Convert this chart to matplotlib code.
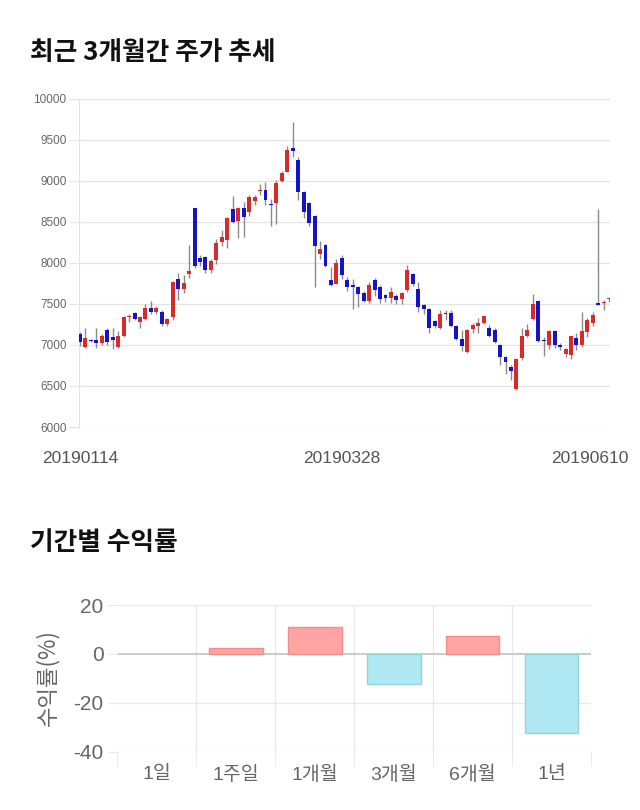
import numpy as np
import matplotlib
matplotlib.use("Agg")
import matplotlib.pyplot as plt
from matplotlib.transforms import ScaledTranslation

plt.rcParams['font.family'] = ['Liberation Sans', 'Noto Sans CJK KR', 'DejaVu Sans']
plt.rcParams['axes.unicode_minus'] = False

# daily candles, 20190114 .. 20190610
opens = [7130, 6980, 7063, 7060, 7018, 7180, 7090, 6975, 7108, 7340,
         7385, 7275, 7310, 7445, 7395, 7405, 7260, 7345, 7806, 7684,
         7860, 8663, 8060, 8065, 7910, 8032, 8256, 8272, 8650, 8508,
         8670, 8614, 8756, 8870, 8886, 8710, 8723, 9000, 9110, 9398,
         9256, 8862, 8728, 8565, 8102, 8211, 7785, 7744, 8057, 7793,
         7732, 7703, 7634, 7533, 7785, 7703, 7610, 7573, 7600, 7561,
         7663, 7866, 7675, 7488, 7439, 7289, 7203, 7390, 7386, 7228,
         7073, 6919, 7195, 7228, 7264, 7207, 7183, 7000, 6858, 6736,
         6463, 6837, 7106, 7317, 7540, 7055, 7000, 7175, 7000, 6890,
         6878, 7081, 7000, 7154, 7264, 7500, 7510, 7555]
highs = [7160, 7210, 7075, 7200, 7130, 7210, 7200, 7170, 7350, 7380,
         7400, 7350, 7500, 7540, 7470, 7420, 7330, 7780, 7870, 7850,
         8220, 8663, 8100, 8080, 8050, 8290, 8400, 8560, 8810, 8680,
         8740, 8820, 8830, 8960, 8980, 8780, 9010, 9120, 9420, 9715,
         9290, 8870, 8740, 8580, 8270, 8230, 7950, 8040, 8100, 7830,
         7800, 7720, 7650, 7770, 7810, 7730, 7620, 7700, 7620, 7640,
         7967, 7880, 7760, 7500, 7450, 7300, 7420, 7420, 7430, 7240,
         7180, 7190, 7270, 7330, 7350, 7240, 7200, 7010, 6870, 6750,
         6840, 7200, 7250, 7620, 7550, 7100, 7180, 7180, 7020, 6960,
         7110, 7150, 7400, 7330, 7400, 8650, 7550, 7580]
lows = [6990, 6965, 7030, 6957, 7000, 7000, 6950, 6960, 7100, 7280,
        7300, 7200, 7300, 7380, 7380, 7230, 7230, 7300, 7550, 7630,
        7820, 7940, 7960, 7880, 7870, 7990, 8200, 8180, 8480, 8300,
        8310, 8570, 8700, 8830, 8700, 8450, 8470, 8980, 9100, 9290,
        8770, 8550, 8450, 7700, 8050, 7950, 7720, 7740, 7800, 7650,
        7440, 7460, 7520, 7510, 7600, 7510, 7520, 7510, 7500, 7500,
        7640, 7720, 7400, 7380, 7150, 7200, 7190, 7300, 7220, 7060,
        6930, 6900, 7140, 7150, 7250, 7100, 7020, 6750, 6650, 6570,
        6450, 6820, 7090, 7300, 7040, 6870, 6950, 6960, 6940, 6850,
        6830, 6940, 6980, 7100, 7230, 7480, 7420, 7520]
closes = [7030, 7080, 7047, 7018, 7108, 7040, 7060, 7110, 7345, 7350,
          7310, 7335, 7445, 7395, 7455, 7250, 7320, 7760, 7684, 7750,
          7900, 7963, 8012, 7910, 8025, 8244, 8309, 8549, 8492, 8663,
          8553, 8797, 8797, 8880, 8764, 8700, 8967, 9090, 9370, 9362,
          8862, 8618, 8484, 8200, 8163, 7955, 7732, 8000, 7854, 7703,
          7703, 7622, 7533, 7732, 7663, 7553, 7573, 7642, 7541, 7634,
          7907, 7744, 7459, 7439, 7203, 7228, 7370, 7378, 7224, 7073,
          6992, 7183, 7236, 7264, 7346, 7114, 7033, 6850, 6789, 6687,
          6829, 7106, 7183, 7492, 7053, 7050, 7175, 7000, 6970, 6950,
          7102, 7000, 7163, 7297, 7366, 7490, 7520, 7560]
date_ticks = [0, 48, 97]
date_labels = ['20190114', '20190328', '20190610']
price_ticks = [6000, 6500, 7000, 7500, 8000, 8500, 9000, 9500, 10000]

periods = ['1일', '1주일', '1개월', '3개월', '6개월', '1년']
returns = [0.0, 2.3, 11.0, -12.5, 7.5, -32.5]

fig = plt.figure(figsize=(6.4, 8.1), dpi=100)

fig.text(30 / 640, 1 - 52 / 810, '최근 3개월간 주가 추세', fontsize=18.5, fontweight='bold',
         family=['Noto Sans CJK KR'], va='center', color='#111111')
fig.text(30 / 640, 1 - 543 / 810, '기간별 수익률', fontsize=18.5, fontweight='bold',
         family=['Noto Sans CJK KR'], va='center', color='#111111')

# candlestick chart
ax = fig.add_axes([79 / 640, 1 - 427 / 810, 531 / 640, 328.5 / 810])
o = np.array(opens)
c = np.array(closes)
x = np.arange(len(o))
up = c > o
colors = np.where(up, '#d92a2a', '#1414c4')
ax.vlines(x, lows, highs, color='#8a8a8a', lw=1, zorder=2)
bottoms = np.minimum(o, c)
heights = np.maximum(np.abs(c - o), 14)
ax.bar(x, heights, bottom=bottoms, width=0.72, color=colors, zorder=3, linewidth=0)

ax.set_ylim(6000, 10000)
ax.set_xlim(-0.18, 97.15)
ax.set_yticks(price_ticks)
ax.set_yticklabels([str(t) for t in price_ticks])
ax.set_xticks(date_ticks)
ax.set_xticklabels(date_labels)
ax.grid(axis='y', color='#e3e3e3', lw=0.9)
ax.set_axisbelow(True)
for s in ['top', 'right', 'bottom']:
    ax.spines[s].set_visible(False)
ax.spines['left'].set_color('#e3e3e3')
ax.tick_params(axis='y', length=7, color='#e3e3e3', labelsize=8.5, labelcolor='#666666', pad=2)
ax.tick_params(axis='x', length=0, labelsize=12.5, labelcolor='#555555', pad=17)
last = ax.get_xticklabels()[-1]
last.set_transform(last.get_transform() + ScaledTranslation(-19 / 100, 0, fig.dpi_scale_trans))

# returns by period
ax2 = fig.add_axes([117.5 / 640, 1 - 751.7 / 810, 473.5 / 640, 146.7 / 810])
bar_colors = ['#ffa3a3' if r >= 0 else '#b0e9f3' for r in returns]
edge_colors = ['#f08d8d' if r >= 0 else '#92d3df' for r in returns]
edge_widths = [1 if r != 0 else 0 for r in returns]
ax2.bar(np.arange(len(periods)), returns, width=0.68, color=bar_colors,
        edgecolor=edge_colors, linewidth=edge_widths, zorder=3)
ax2.axhline(0, color='#c4c4c4', lw=1.2, zorder=2)
ax2.set_ylim(-40, 20)
ax2.set_xlim(-0.5, len(periods) - 0.5)
ax2.set_yticks([-40, -20, 0, 20])
ax2.set_xticks(np.arange(len(periods)))
ax2.set_xticklabels(periods, family=['Liberation Sans', 'Noto Sans CJK KR'])
ax2.set_xticks(np.arange(-0.5, len(periods)), minor=True)
ax2.grid(axis='y', color='#e8e8e8', lw=0.9)
ax2.grid(axis='x', which='minor', color='#e8e8e8', lw=0.9)
ax2.set_axisbelow(True)
for s in ax2.spines.values():
    s.set_visible(False)
ax2.tick_params(axis='y', length=7, color='#e8e8e8', labelsize=15, labelcolor='#666666', pad=3)
ax2.tick_params(axis='x', which='major', length=0, labelsize=14, labelcolor='#666666', pad=10)
ax2.tick_params(axis='x', which='minor', length=10, color='#e8e8e8')

fig.text(47 / 640, 1 - 678 / 810, '수익률(%)', rotation=90, fontsize=16, color='#666666',
         family=['Noto Sans CJK KR'], va='center', ha='center')

fig.savefig('out.png', dpi=100)
